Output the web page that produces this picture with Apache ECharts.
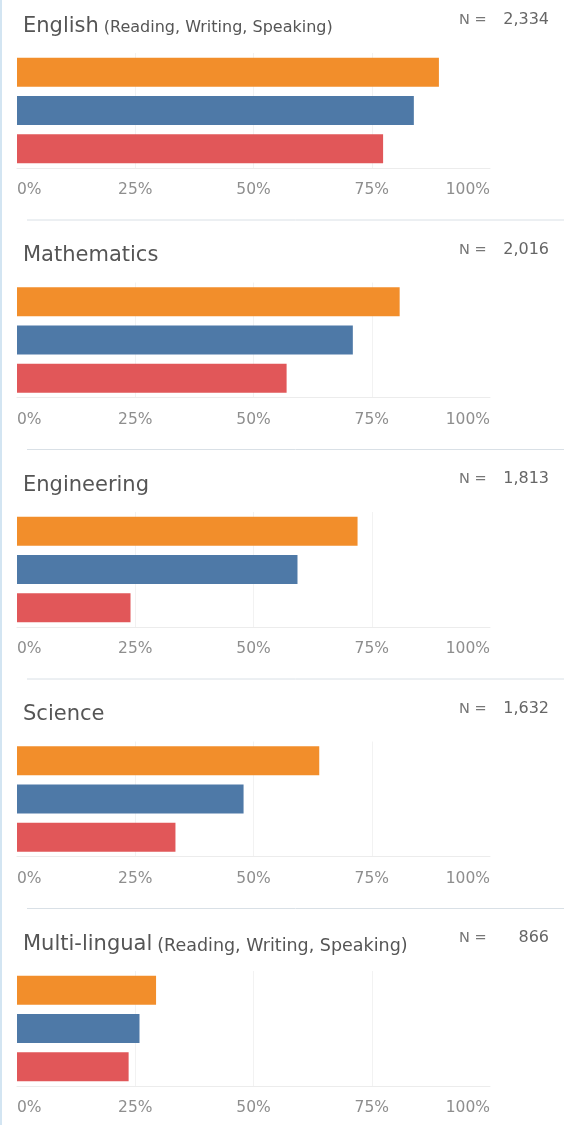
<!DOCTYPE html>
<html>
<head>
<meta charset="utf-8">
<script src="https://cdn.jsdelivr.net/npm/echarts@6/dist/echarts.min.js"></script>
<style>
  html, body { margin: 0; padding: 0; background: #fff; }
  #main { width: 564px; height: 1125px; }
</style>
</head>
<body>
<div id="main"></div>
<script>
// data (share of respondents, %)
const subjects = ['English', 'Mathematics', 'Engineering', 'Science', 'Multi-lingual'];
const subjectNotes = ['(Reading, Writing, Speaking)', '', '', '', '(Reading, Writing, Speaking)'];
const nCounts = ['2,334', '2,016', '1,813', '1,632', '866'];
const orangeValues = [89.2, 80.9, 72.0, 63.9, 29.4];
const blueValues = [83.9, 71.0, 59.3, 47.9, 25.9];
const redValues = [77.4, 57.0, 24.0, 33.5, 23.6];
const barRows = ['row1', 'row2', 'row3'];
const tickValues = [0, 25, 50, 75, 100];

const colors = ['#F28E2B', '#4E79A7', '#E15759'];
const noteSizes = [16, 16, 16, 16, 17.5];
const PANEL_H = 229.5;
const font = '"DejaVu Sans", "Noto Sans", sans-serif';

const myChart = echarts.init(document.getElementById('main'));

const grids = [], xAxes = [], yAxes = [], series = [], titles = [], graphics = [];

subjects.forEach((name, i) => {
  const off = i * PANEL_H;
  grids.push({ left: 17, width: 473, top: off + 53, height: 115 });
  xAxes.push({
    gridIndex: i,
    type: 'value',
    min: tickValues[0],
    max: tickValues[tickValues.length - 1],
    interval: 25,
    axisLine: { show: true, lineStyle: { color: '#ececec', width: 1 } },
    axisTick: { show: false },
    splitLine: { show: true, showMinLine: false, showMaxLine: false, lineStyle: { color: '#f2f2f2', width: 1 } },
    axisLabel: {
      formatter: '{value}%',
      color: '#8e8e8e',
      fontFamily: font,
      fontSize: 15.5,
      margin: 14,
      alignMinLabel: 'left',
      alignMaxLabel: 'right'
    }
  });
  yAxes.push({
    gridIndex: i,
    type: 'category',
    data: barRows,
    inverse: true,
    axisLine: { show: false },
    axisTick: { show: false },
    axisLabel: { show: false },
    splitLine: { show: false }
  });
  series.push({
    type: 'bar',
    xAxisIndex: i,
    yAxisIndex: i,
    barWidth: 29,
    silent: true,
    data: [orangeValues[i], blueValues[i], redValues[i]].map((v, k) => ({
      value: v,
      itemStyle: { color: colors[k] }
    }))
  });
  const note = subjectNotes[i];
  titles.push({
    left: 18,
    top: off + 11,
    text: '{m|' + name + '}' + (note ? ' {s|' + note + '}' : ''),
    textStyle: {
      fontWeight: 'normal',
      rich: {
        m: { fontFamily: font, fontSize: 21, fontWeight: 'normal', color: '#555' },
        s: { fontFamily: font, fontSize: noteSizes[i], fontWeight: 'normal', color: '#555', padding: [3, 0, 0, 0] }
      }
    }
  });
  graphics.push({
    type: 'text', left: 459, top: off + 13,
    style: { text: 'N =', fontFamily: font, fontSize: 14.5, fill: '#777' }
  });
  graphics.push({
    type: 'text', right: 15, top: off + 12,
    style: { text: nCounts[i], fontFamily: font, fontSize: 16, fill: '#666', align: 'right' }
  });
  if (i < subjects.length - 1) {
    graphics.push({
      type: 'line',
      shape: { x1: 27, y1: off + 220, x2: 564, y2: off + 220 },
      style: { stroke: '#d9e0e6', lineWidth: 1 }
    });
  }
});

// light blue border on the left edge
graphics.push({
  type: 'rect',
  shape: { x: 0, y: 0, width: 2, height: 1125 },
  style: { fill: '#d3e5f2' }
});

const option = {
  animation: false,
  title: titles,
  grid: grids,
  xAxis: xAxes,
  yAxis: yAxes,
  series: series,
  graphic: graphics
};

myChart.setOption(option);
</script>
</body>
</html>
